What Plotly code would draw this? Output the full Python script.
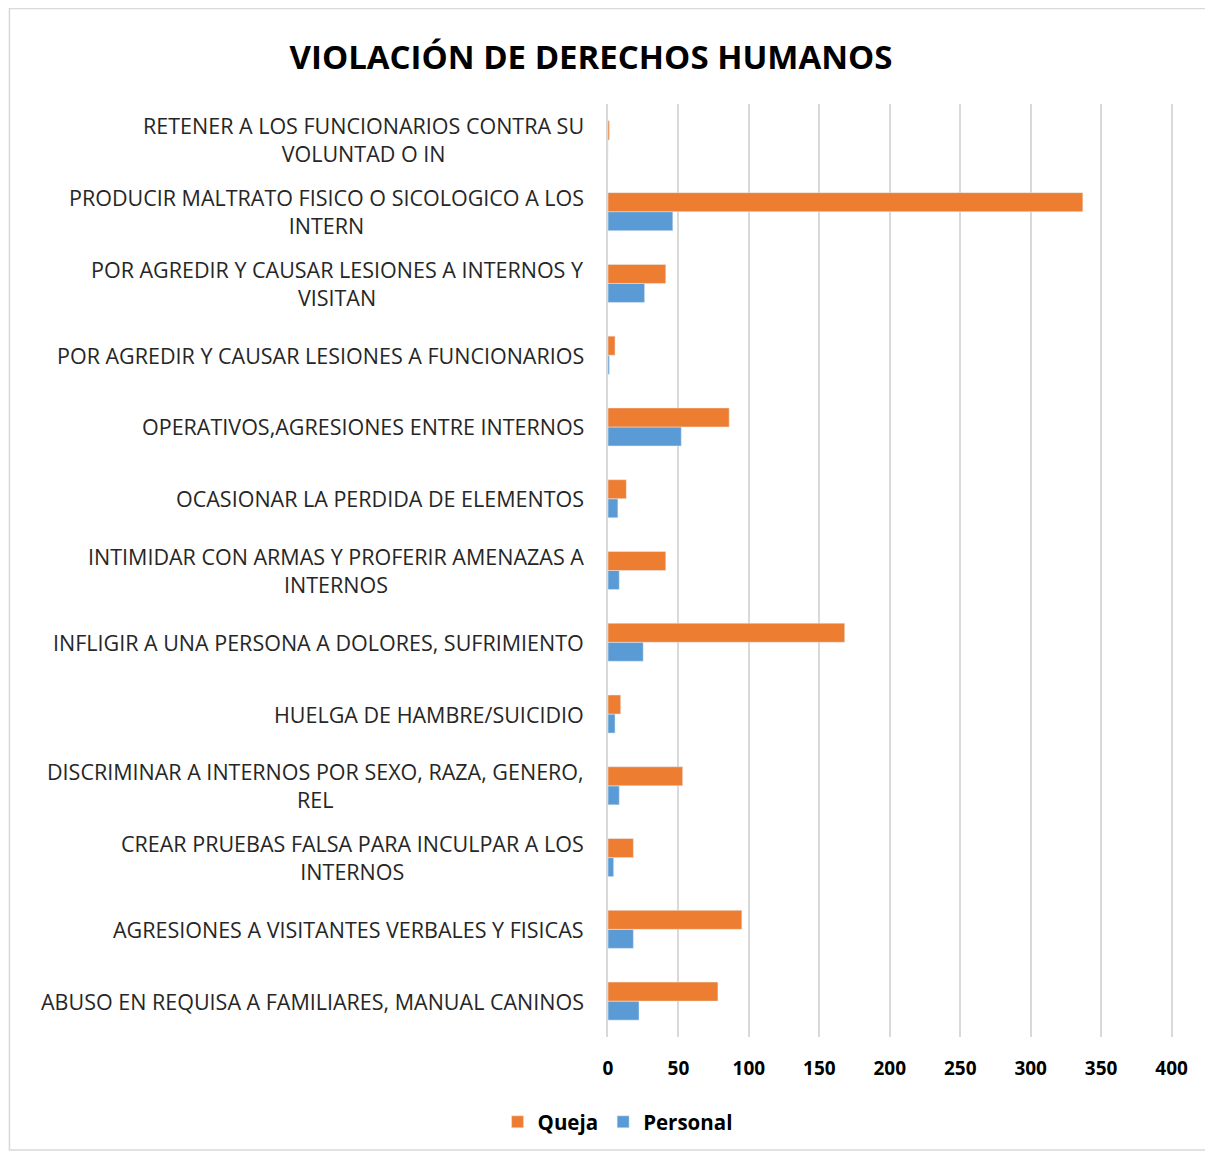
import plotly.graph_objects as go

categories = [
    "ABUSO EN REQUISA A FAMILIARES, MANUAL CANINOS",
    "AGRESIONES A VISITANTES VERBALES Y FISICAS",
    "CREAR PRUEBAS FALSA PARA INCULPAR A LOS<br>INTERNOS",
    "DISCRIMINAR A INTERNOS POR SEXO, RAZA, GENERO,<br>REL",
    "HUELGA DE HAMBRE/SUICIDIO",
    "INFLIGIR A UNA PERSONA A DOLORES, SUFRIMIENTO",
    "INTIMIDAR CON ARMAS Y PROFERIR AMENAZAS A<br>INTERNOS",
    "OCASIONAR LA PERDIDA DE ELEMENTOS",
    "OPERATIVOS,AGRESIONES ENTRE INTERNOS",
    "POR AGREDIR Y CAUSAR LESIONES A FUNCIONARIOS",
    "POR AGREDIR Y CAUSAR LESIONES A INTERNOS Y<br>VISITAN",
    "PRODUCIR MALTRATO FISICO O SICOLOGICO A LOS<br>INTERN",
    "RETENER A LOS FUNCIONARIOS CONTRA SU<br>VOLUNTAD O IN",
]
queja = [78, 95, 18, 53, 9, 168, 41, 13, 86, 5, 41, 337, 1]
personal = [22, 18, 4, 8, 5, 25, 8, 7, 52, 1, 26, 46, 0]
x_ticks = [0, 50, 100, 150, 200, 250, 300, 350, 400]

ids = list(range(len(categories)))

W, H = 1205, 1146
L, T, B = 599.5, 96, 1029
XMAX = 401
R = L + XMAX * 1.41

fig = go.Figure()
fig.add_trace(go.Bar(y=ids, x=personal, orientation="h", name="Personal",
                     marker=dict(color="#5b9bd5"), legendrank=2))
fig.add_trace(go.Bar(y=ids, x=queja, orientation="h", name="Queja",
                     marker=dict(color="#ed7d31"), legendrank=1))

for i, c in enumerate(categories):
    fig.add_annotation(x=0, xref="paper", y=i, yref="y", text=c,
                       xanchor="right", xshift=-22, align="center",
                       showarrow=False,
                       font=dict(family="Open Sans", size=21.5, color="#262626"))

pw = R - L
ph = B - T
fig.add_shape(type="rect", xref="paper", yref="paper",
              x0=(0.5 - L) / pw, x1=(1202 - L) / pw,
              y0=(B - 1142) / ph, y1=(B - 0.5) / ph,
              line=dict(color="#d9d9d9", width=1.5), layer="below")

fig.update_layout(
    width=W, height=H,
    margin=dict(l=L, r=W - R, t=T, b=H - B),
    paper_bgcolor="white", plot_bgcolor="white",
    barmode="group", bargap=0.47, bargroupgap=0,
    title=dict(text="<b>VIOLACIÓN DE DERECHOS HUMANOS</b>",
               x=583 / W, xanchor="center", y=1 - 49 / H, yanchor="middle",
               font=dict(family="Open Sans", size=33, color="black")),
    xaxis=dict(range=[0, XMAX], tickvals=x_ticks, showgrid=True,
               gridcolor="#d9d9d9", gridwidth=1.5, zeroline=False,
               ticklabelstandoff=18,
               tickfont=dict(family="Open Sans", size=19, color="black", weight="bold")),
    yaxis=dict(range=[-0.5, len(categories) - 0.5], showticklabels=False,
               showgrid=False, zeroline=False, showline=True,
               linecolor="#d9d9d9", linewidth=1.5),
    legend=dict(orientation="h", x=(489 - L) / pw, xanchor="left",
                y=(B - 1114) / ph, yanchor="middle",
                font=dict(family="Open Sans", size=20.5, color="black", weight="bold"),
                itemwidth=30, traceorder="normal"),
    showlegend=True,
)

fig.write_html("out.html")
